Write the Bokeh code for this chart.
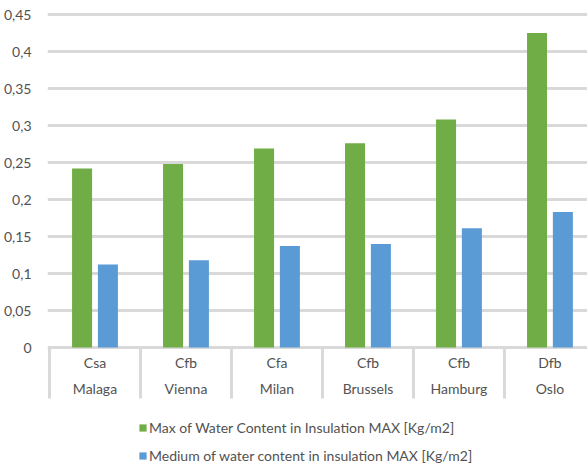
from bokeh.plotting import figure
from bokeh.models import ColumnDataSource, Range1d, FixedTicker, Legend, LegendItem
from bokeh.transform import dodge
from bokeh.core.properties import value
from bokeh.embed import file_html
from bokeh.resources import INLINE

# Water content in insulation per city / Koppen climate class
cities = ["Malaga", "Vienna", "Milan", "Brussels", "Hamburg", "Oslo"]
climates = ["Csa", "Cfb", "Cfa", "Cfb", "Cfb", "Dfb"]
max_water = [0.242, 0.248, 0.269, 0.276, 0.308, 0.425]
medium_water = [0.112, 0.118, 0.137, 0.140, 0.161, 0.183]
series_names = [
    "Max of Water Content in Insulation MAX [Kg/m2]",
    "Medium of water content in insulation MAX [Kg/m2]",
]
y_ticks = [0, 0.05, 0.1, 0.15, 0.2, 0.25, 0.3, 0.35, 0.4, 0.45]
y_tick_labels = ["0", "0,05", "0,1", "0,15", "0,2", "0,25", "0,3", "0,35", "0,4", "0,45"]

GREEN = "#70ad47"
BLUE = "#5b9bd5"
GRID = "#d9d9d9"
TEXT = "#525252"
FONT = "Lato"

W, H = 587, 466
LEFT, TOP = 44, 12
PX_PER_UNIT = 740.0      # vertical scale
CAT_PX = 91.5            # width of one category slot
ZERO_Y = 347             # pixel row of the zero line
BOX_BOTTOM = 398         # bottom of the category separators

y_start = -(H - ZERO_Y) / PX_PER_UNIT
y_end = (ZERO_Y - TOP) / PX_PER_UNIT
x_start = -2 / CAT_PX
x_end = x_start + (W - LEFT) / CAT_PX

centers = [i + 0.5 for i in range(len(cities))]
source = ColumnDataSource(dict(x=centers, city=cities, climate=climates,
                               max_w=max_water, med_w=medium_water))

p = figure(width=W, height=H, output_backend="svg", toolbar_location=None,
           x_range=Range1d(x_start, x_end), y_range=Range1d(y_start, y_end),
           x_axis_location=None, min_border_left=LEFT, min_border_right=0,
           min_border_top=TOP, min_border_bottom=0)
p.outline_line_color = None
p.background_fill_color = "white"
p.border_fill_color = "white"

# y axis: comma decimal labels, no line/ticks
ticker = FixedTicker(ticks=y_ticks)
p.yaxis.ticker = ticker
p.yaxis.major_label_overrides = dict(zip(y_ticks, y_tick_labels))
p.yaxis.axis_line_color = None
p.yaxis.major_tick_line_color = None
p.yaxis.minor_tick_line_color = None
p.yaxis.major_label_standoff = 10
p.yaxis.major_label_text_font = FONT
p.yaxis.major_label_text_font_size = "14px"
p.yaxis.major_label_text_color = TEXT

p.xgrid.visible = False
p.ygrid.ticker = ticker
p.ygrid.grid_line_color = GRID
p.ygrid.grid_line_width = 3

bar_w = 0.22
g = p.vbar(x=dodge("x", -0.142, range=p.x_range), top="max_w", width=bar_w,
           source=source, fill_color=GREEN, line_color=None)
b = p.vbar(x=dodge("x", 0.142, range=p.x_range), top="med_w", width=bar_w,
           source=source, fill_color=BLUE, line_color=None)

# category separators below the zero line
bounds = list(range(len(cities) + 1))
sep_bottom = -(BOX_BOTTOM - ZERO_Y) / PX_PER_UNIT
p.segment(x0=bounds, y0=[0] * len(bounds), x1=bounds, y1=[sep_bottom] * len(bounds),
          line_color=GRID, line_width=3)

# two-row category labels: climate class over city name
p.text(x="x", y=-(362 - ZERO_Y) / PX_PER_UNIT, text="climate", source=source,
       text_align="center", text_baseline="middle", text_font=value(FONT),
       text_font_size="14px", text_color=TEXT)
p.text(x="x", y=-(388 - ZERO_Y) / PX_PER_UNIT, text="city", source=source,
       text_align="center", text_baseline="middle", text_font=value(FONT),
       text_font_size="14px", text_color=TEXT)

legend = Legend(items=[LegendItem(label=series_names[0], renderers=[g]),
                       LegendItem(label=series_names[1], renderers=[b])],
                location=(91, 1), orientation="vertical",
                border_line_color=None, background_fill_alpha=0,
                padding=0, margin=0, spacing=8, label_height=20,
                glyph_height=9, glyph_width=9, label_standoff=2,
                label_text_font=FONT, label_text_font_size="14px",
                label_text_color=TEXT)
p.add_layout(legend)

open("out.html", "w").write(file_html(p, INLINE))
